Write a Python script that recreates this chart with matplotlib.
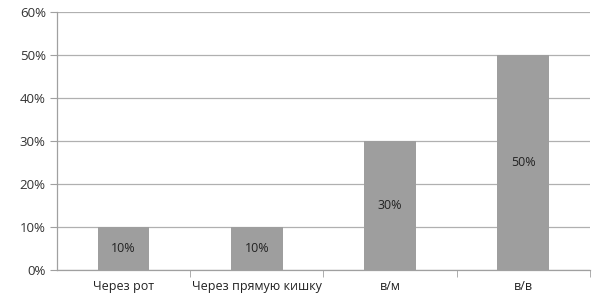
import matplotlib.pyplot as plt
from matplotlib.ticker import FixedLocator, NullFormatter

categories = ['Через рот', 'Через прямую кишку', 'в/м', 'в/в']
values = [10, 10, 30, 50]
y_ticks = [0, 10, 20, 30, 40, 50, 60]

plt.rcParams['font.family'] = ['Open Sans', 'DejaVu Sans']

fig = plt.figure(figsize=(6.05, 3.02), dpi=100)
ax = fig.add_axes([0.094, 0.106, 0.881, 0.854])

x = list(range(len(categories)))
bars = ax.bar(x, values, width=0.39, color='#9e9e9e', zorder=2)
for b, v in zip(bars, values):
    ax.text(b.get_x() + b.get_width() / 2, v / 2, f'{v}%',
            ha='center', va='center', fontsize=9, color='#222222', zorder=3)

ax.set_xlim(-0.5, len(categories) - 0.5)
ax.set_ylim(0, 60)
ax.set_yticks(y_ticks)
ax.set_yticklabels([f'{t}%' for t in y_ticks], fontsize=9.5, color='#333333')
ax.yaxis.grid(True, color='#b0b0b0', linewidth=0.9, zorder=0)

ax.set_xticks(x)
ax.set_xticklabels(categories, fontsize=9, color='#222222')
ax.tick_params(axis='x', which='major', length=0, pad=7)
ax.xaxis.set_minor_locator(FixedLocator([i + 0.5 for i in range(len(categories))]))
ax.xaxis.set_minor_formatter(NullFormatter())
ax.tick_params(axis='x', which='minor', length=5, color='#a0a0a0')
ax.tick_params(axis='y', length=5, color='#a0a0a0', pad=3)

for s in ['top', 'right']:
    ax.spines[s].set_visible(False)
for s in ['left', 'bottom']:
    ax.spines[s].set_color('#a0a0a0')
    ax.spines[s].set_linewidth(0.9)

fig.savefig('out.png', dpi=100)
